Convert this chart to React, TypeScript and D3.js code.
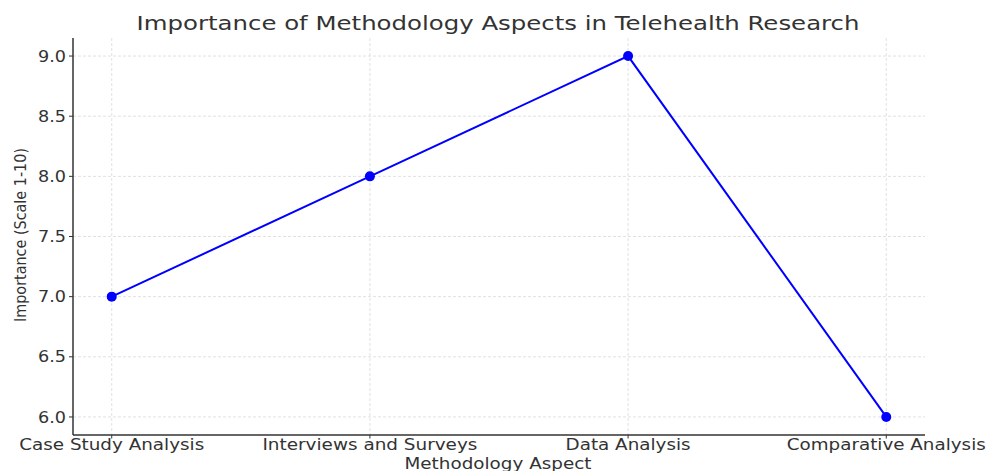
import React from "react";
import * as d3 from "d3";

const categories = ["Case Study Analysis", "Interviews and Surveys", "Data Analysis", "Comparative Analysis"];
const values = [7, 8, 9, 6];
const yTicks = [6.0, 6.5, 7.0, 7.5, 8.0, 8.5, 9.0];
const labelWidths = [185, 215, 125, 199];

export default function App() {
  const W = 986, H = 471;
  const left = 73, right = 925, top = 38, bottom = 435;
  const x = d3.scaleLinear().domain([-0.15, 3.15]).range([left, right]);
  const y = d3.scaleLinear().domain([5.85, 9.15]).range([bottom, top]);
  const line = d3.line<number>().x((_, i) => x(i)).y((d) => y(d));
  const font = "DejaVu Sans, sans-serif";
  const textColor = "#333";
  return (
    <svg width={W} height={H} style={{ position: "absolute", left: 0, top: 0, background: "#fff" }}>
      <text x={498} y={30} textAnchor="middle" fontFamily={font} fontSize={19} fill={textColor} textLength={723} lengthAdjust="spacingAndGlyphs">
        Importance of Methodology Aspects in Telehealth Research
      </text>
      {yTicks.map((t) => (
        <g key={"y" + t}>
          <line x1={left} x2={right} y1={y(t)} y2={y(t)} stroke="#d9d9d9" strokeWidth={0.8} strokeDasharray="3,2" />
          <line x1={left - 4} x2={left} y1={y(t)} y2={y(t)} stroke="#333" strokeWidth={1} />
          <text x={left - 7} y={y(t)} dy="0.36em" textAnchor="end" fontFamily={font} fontSize={15.5} fill={textColor} textLength={28} lengthAdjust="spacingAndGlyphs">
            {t.toFixed(1)}
          </text>
        </g>
      ))}
      {categories.map((c, i) => (
        <g key={c}>
          <line x1={x(i)} x2={x(i)} y1={top} y2={bottom} stroke="#d9d9d9" strokeWidth={0.8} strokeDasharray="3,2" />
          <line x1={x(i)} x2={x(i)} y1={bottom} y2={bottom + 3.5} stroke="#333" strokeWidth={1} />
          <text x={x(i)} y={450} textAnchor="middle" fontFamily={font} fontSize={15} fill={textColor} textLength={labelWidths[i]} lengthAdjust="spacingAndGlyphs">
            {c}
          </text>
        </g>
      ))}
      <line x1={left} x2={left} y1={top} y2={bottom} stroke="#333" strokeWidth={1.5} />
      <line x1={left} x2={right} y1={bottom} y2={bottom} stroke="#333" strokeWidth={1.5} />
      <path d={line(values) || ""} fill="none" stroke="#0000ff" strokeWidth={2} />
      {values.map((v, i) => (
        <circle key={"p" + i} cx={x(i)} cy={y(v)} r={5} fill="#0000ff" />
      ))}
      <text x={498} y={469} textAnchor="middle" fontFamily={font} fontSize={15} fill={textColor} textLength={187} lengthAdjust="spacingAndGlyphs">
        Methodology Aspect
      </text>
      <text transform={`translate(26,235) rotate(-90)`} textAnchor="middle" fontFamily={font} fontSize={15} fill={textColor} textLength={174} lengthAdjust="spacingAndGlyphs">
        Importance (Scale 1-10)
      </text>
    </svg>
  );
}
